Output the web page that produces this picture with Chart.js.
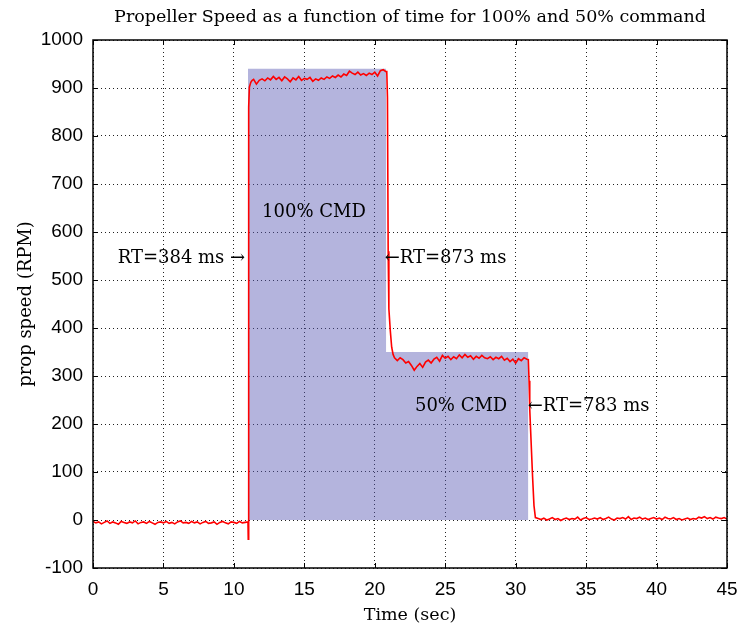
<!DOCTYPE html>
<html>
<head>
<meta charset="utf-8">
<script src="https://cdn.jsdelivr.net/npm/chart.js@4.4.1/dist/chart.umd.min.js"></script>
<style>
  html, body { margin: 0; padding: 0; background: #fff; }
  #wrap { width: 739px; height: 629px; }
</style>
</head>
<body>
<div id="wrap"><canvas id="propChart" width="739" height="629"></canvas></div>
<script>
// measured propeller speed (time in sec, speed in RPM)
let speedTime = [
  0,0.2,0.4,0.6,0.8,1,1.2,1.4,1.6,1.8,
  2,2.2,2.4,2.6,2.8,3,3.2,3.4,3.6,3.8,
  4,4.2,4.4,4.6,4.8,5,5.2,5.4,5.6,5.8,
  6,6.2,6.4,6.6,6.8,7,7.2,7.4,7.6,7.8,
  8,8.2,8.4,8.6,8.8,9,9.2,9.4,9.6,9.8,
  10,10.2,10.4,10.6,10.8,
  11,11.02,11.05,11.1,11.2,11.3,
  11.4,11.6,11.8,12,12.2,12.4,12.6,12.8,13,13.2,
  13.4,13.6,13.8,14,14.2,14.4,14.6,14.8,15,15.2,
  15.4,15.6,15.8,16,16.2,16.4,16.6,16.8,17,17.2,
  17.4,17.6,17.8,18,18.2,18.4,18.6,18.8,19,19.2,
  19.4,19.6,19.8,20,20.2,20.4,20.6,20.8,
  20.85,20.9,20.95,21,21.1,21.2,21.3,21.4,
  21.6,21.8,22,22.2,22.4,22.6,22.8,23,23.2,23.4,
  23.6,23.8,24,24.2,24.4,24.6,24.8,25,25.2,25.4,
  25.6,25.8,26,26.2,26.4,26.6,26.8,27,27.2,27.4,
  27.6,27.8,28,28.2,28.4,28.6,28.8,29,29.2,29.4,
  29.6,29.8,30,30.2,30.4,30.6,30.8,
  30.9,30.95,31,31.1,31.2,31.3,31.4,
  31.6,31.8,32,32.2,32.4,32.6,32.8,33,33.2,33.4,
  33.6,33.8,34,34.2,34.4,34.6,34.8,35,35.2,35.4,
  35.6,35.8,36,36.2,36.4,36.6,36.8,37,37.2,37.4,
  37.6,37.8,38,38.2,38.4,38.6,38.8,39,39.2,39.4,
  39.6,39.8,40,40.2,40.4,40.6,40.8,41,41.2,41.4,
  41.6,41.8,42,42.2,42.4,42.6,42.8,43,43.2,43.4,
  43.6,43.8,44,44.2,44.4,44.6,44.8,45
];
let speedRpm = [
  -3,-6,-4,-8,-5,-2,-7,-4,-6,-9,
  -3,-5,-7,-4,-6,-2,-8,-5,-4,-7,
  -3,-6,-9,-5,-4,-6,-3,-7,-5,-8,
  -4,-2,-6,-5,-7,-3,-6,-4,-8,-5,
  -3,-7,-6,-4,-9,-5,-3,-6,-8,-4,
  -5,-7,-3,-6,-5,
  -4,-40,860,902,912,916,
  918,908,916,919,915,921,917,924,918,922,
  915,923,919,913,921,917,924,916,920,918,
  922,914,919,916,921,918,923,920,925,922,
  927,923,929,926,935,931,928,933,927,930,
  926,931,928,933,925,936,938,934,
  936,880,560,440,395,360,345,338,
  332,338,334,327,330,322,312,320,326,318,
  329,333,327,335,339,331,343,337,341,334,
  340,336,344,338,345,339,342,335,341,337,
  343,338,336,340,334,339,336,341,333,337,
  330,335,327,336,332,338,335,
  334,290,230,160,90,30,5,
  3,1,4,0,2,5,1,3,-1,2,
  4,1,3,2,6,0,3,5,1,2,
  4,2,5,1,3,6,2,0,4,3,
  5,2,7,1,4,3,6,2,4,1,
  3,5,2,4,1,6,3,2,5,1,
  3,0,2,4,1,3,2,6,4,7,
  3,5,2,6,4,3,5,2
];

// commanded speed (shaded area)
let cmdTime = [11, 11, 20.8, 20.8, 30.9, 30.9];
let cmdRpm = [0, 940, 940, 350, 350, 0];

// axis ticks
let xTicks = [0, 5, 10, 15, 20, 25, 30, 35, 40, 45];
let yTicks = [-100, 0, 100, 200, 300, 400, 500, 600, 700, 800, 900, 1000];

let chartTitle = "Propeller Speed as a function of time for 100% and 50% command";

// text notes placed in data units
let notes = [
  { text: "RT=384 ms \u2192", x: 10.8, y: 546, align: "right" },
  { text: "\u2190RT=873 ms", x: 20.7, y: 546, align: "left" },
  { text: "100% CMD", x: 12.0, y: 642, align: "left" },
  { text: "50% CMD", x: 22.85, y: 237, align: "left" },
  { text: "\u2190RT=783 ms", x: 30.85, y: 237, align: "left" }
];

function toPoints(xs, ys)
{
    let pts = [];
    for (let i = 0; i < xs.length; i++) {
        pts.push({ x: xs[i], y: ys[i] });
    }
    return pts;
}

// frame box, inward ticks, title and the text notes
let decorPlugin = {
    id: 'decor',
    afterDraw: function(chart) {
        let ctx = chart.ctx;
        let area = chart.chartArea;
        let xs = chart.scales.x;
        let ys = chart.scales.y;
        ctx.save();

        ctx.strokeStyle = '#000';
        ctx.lineWidth = 1.5;
        ctx.strokeRect(area.left, area.top, area.right - area.left, area.bottom - area.top);

        ctx.lineWidth = 1;
        ctx.beginPath();
        xTicks.forEach(function(v) {
            let px = Math.round(xs.getPixelForValue(v)) + 0.5;
            ctx.moveTo(px, area.bottom); ctx.lineTo(px, area.bottom - 5);
            ctx.moveTo(px, area.top); ctx.lineTo(px, area.top + 5);
        });
        yTicks.forEach(function(v) {
            let py = Math.round(ys.getPixelForValue(v)) + 0.5;
            ctx.moveTo(area.left, py); ctx.lineTo(area.left + 5, py);
            ctx.moveTo(area.right, py); ctx.lineTo(area.right - 5, py);
        });
        ctx.stroke();

        ctx.fillStyle = '#000';
        ctx.font = '17.5px "DejaVu Serif"';
        ctx.textAlign = 'center';
        ctx.textBaseline = 'middle';
        ctx.fillText(chartTitle, (area.left + area.right) / 2, 17);

        ctx.font = '18px "DejaVu Serif"';
        notes.forEach(function(n) {
            ctx.textAlign = n.align;
            ctx.fillText(n.text, xs.getPixelForValue(n.x), ys.getPixelForValue(n.y));
        });
        ctx.restore();
    }
};

function plainTick(value)
{
    return String(value);
}

let ctx = document.getElementById('propChart');
new Chart(ctx, {
    type: 'scatter',
    data: {
        datasets: [
            {
                label: 'speed',
                data: toPoints(speedTime, speedRpm),
                showLine: true,
                borderColor: '#ff0000',
                borderWidth: 1.6,
                pointRadius: 0,
                tension: 0,
                fill: false,
                order: 0
            },
            {
                label: 'command',
                data: toPoints(cmdTime, cmdRpm),
                showLine: true,
                borderWidth: 0,
                borderColor: 'rgba(0,0,0,0)',
                backgroundColor: 'rgba(88,88,180,0.45)',
                pointRadius: 0,
                tension: 0,
                fill: 'origin',
                order: 1
            }
        ]
    },
    options: {
        responsive: false,
        animation: false,
        layout: { padding: { top: 40, right: 12, bottom: 0, left: 0 } },
        plugins: {
            legend: { display: false },
            tooltip: { enabled: false },
            title: { display: false }
        },
        scales: {
            x: {
                type: 'linear',
                min: 0,
                max: 45,
                afterFit: function(scale) {
                    scale.height = 61;
                    scale.paddingLeft = 0;
                    scale.paddingRight = 0;
                },
                afterBuildTicks: function(scale) { scale.ticks = xTicks.map(function(v) { return { value: v }; }); },
                ticks: { color: '#000', padding: 10, maxRotation: 0, callback: plainTick, font: { family: '"Liberation Sans"', size: 19 } },
                grid: { color: '#222', lineWidth: 1, drawTicks: false },
                border: { display: false, dash: [1, 3] },
                title: {
                    display: true,
                    text: 'Time (sec)',
                    color: '#000',
                    font: { family: '"DejaVu Serif"', size: 17.5 },
                    padding: { top: 0, bottom: 3 }
                }
            },
            y: {
                type: 'linear',
                min: -100,
                max: 1000,
                afterFit: function(scale) {
                    scale.width = 93;
                    scale.paddingTop = 0;
                    scale.paddingBottom = 0;
                },
                afterBuildTicks: function(scale) { scale.ticks = yTicks.map(function(v) { return { value: v }; }); },
                ticks: { color: '#000', padding: 10, callback: plainTick, font: { family: '"Liberation Sans"', size: 19 } },
                grid: { color: '#222', lineWidth: 1, drawTicks: false },
                border: { display: false, dash: [1, 3] },
                title: {
                    display: true,
                    text: 'prop speed (RPM)',
                    color: '#000',
                    font: { family: '"DejaVu Serif"', size: 18 },
                    padding: { top: 16, bottom: 0 }
                }
            }
        }
    },
    plugins: [decorPlugin]
});
</script>
</body>
</html>
